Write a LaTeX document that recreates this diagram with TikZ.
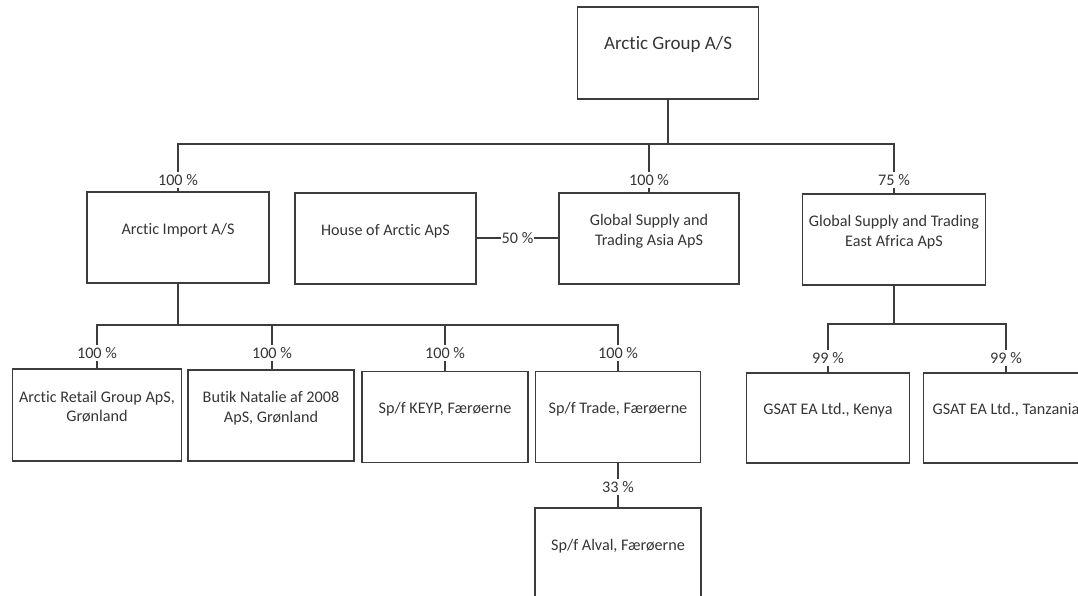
\documentclass[tikz,border=0pt]{standalone}
\usepackage{fontspec}
\setmainfont{Carlito}[Ligatures=NoCommon]
\usetikzlibrary{positioning,calc}
\definecolor{tinta}{HTML}{353535}
\definecolor{linea}{HTML}{3C3C3C}

\begin{document}
\begin{tikzpicture}[x=0.025cm, y=-0.025cm, font=\fontsize{11.5}{13.8}\selectfont, every node/.style={text=tinta},
  caja/.style={draw=linea, line width=1pt, align=center, minimum height=2.275cm, text depth=12.5pt, inner sep=2pt},
  pct/.style={inner sep=1.5pt},
  enlace/.style={draw=linea, line width=1.3pt}]
\useasboundingbox (0,0) rectangle (1078,595);
\clip (0,0) rectangle (1078,595);

% ================= matriz =================
\node[caja, minimum width=4.525cm, minimum height=2.3cm, font=\fontsize{13.5}{16}\selectfont, text depth=15pt] (grupo) at (668,53) {Arctic Group A/S};

% ================= nivel 1 =================
\node[caja, minimum width=4.55cm] (import) at (178,237.5) {Arctic Import A/S};
\node[caja, minimum width=4.525cm] (house) at (385.5,238.5) {House of Arctic ApS};
\node[caja, minimum width=4.5cm] (asia) at (649,238.5) {Global Supply and\\Trading Asia ApS};
\node[caja, minimum width=4.575cm] (eafrica) at (894,239.5) {Global Supply and Trading\\East Africa ApS};

% ================= nivel 2 =================
\node[caja, minimum width=4.225cm, minimum height=2.3cm] (retail) at (97,415) {Arctic Retail Group ApS,\\Grønland};
\node[caja, minimum width=4.15cm] (butik) at (271,415.5) {Butik Natalie af 2008\\ApS, Grønland};
\node[caja, minimum width=4.15cm] (keyp) at (445,417) {Sp/f KEYP, Færøerne};
\node[caja, minimum width=4.125cm] (trade) at (618,417) {Sp/f Trade, Færøerne};
\node[caja, minimum width=4.15cm, minimum height=2.3cm] (alval) at (618,554) {Sp/f Alval, Færøerne};
\node[caja, minimum width=4.075cm, minimum height=2.25cm] (kenya) at (828,418) {GSAT EA Ltd., Kenya};
\node[caja, minimum width=4.125cm, minimum height=2.25cm] (tanzania) at (1006,418) {GSAT EA Ltd., Tanzania};

% ================= porcentajes =================
\node[pct] (p-import) at (178,180) {100 \%};
\node[pct] (p-asia) at (649,180) {100 \%};
\node[pct] (p-eafrica) at (894,180) {75 \%};
\node[pct, inner sep=0pt] (p-house) at (517.5,238) {50 \%};
\node[pct] (p-retail) at (97,353) {100 \%};
\node[pct] (p-butik) at (272,353) {100 \%};
\node[pct] (p-keyp) at (445,353) {100 \%};
\node[pct] (p-trade) at (618,353) {100 \%};
\node[pct] (p-alval) at (618,487) {33 \%};
\node[pct] (p-kenya) at (828,358) {99 \%};
\node[pct] (p-tanzania) at (1006,358) {99 \%};

% ================= lineas =================
% grupo -> nivel 1
\draw[enlace] (grupo.south) -- ++(0,44) coordinate (hub1);
\draw[enlace] (hub1) -| (p-import.north);
\draw[enlace] (hub1) -| (p-asia.north);
\draw[enlace] (hub1) -| (p-eafrica.north);
\draw[enlace] (p-import.south) -- (p-import.south |- import.north);
\draw[enlace] (p-asia.south) -- (p-asia.south |- asia.north);
\draw[enlace] (p-eafrica.south) -- (p-eafrica.south |- eafrica.north);
% house 50 %
\draw[enlace] (p-house.west -| house.east) -- (p-house.west);
\draw[enlace] (p-house.east) -- (p-house.east -| asia.west);

% import -> nivel 2
\draw[enlace] (import.south) -- ++(0,41.5) coordinate (hub2);
\foreach \n in {retail,butik,keyp,trade}{
  \draw[enlace] (hub2) -| (p-\n.north);
  \draw[enlace] (p-\n.south) -- (p-\n.south |- \n.north);
}
% trade -> alval
\draw[enlace] (trade.south) -- (trade.south |- p-alval.north);
\draw[enlace] (p-alval.south) -- (p-alval.south |- alval.north);

% east africa -> kenya / tanzania
\draw[enlace] (eafrica.south) -- ++(0,38) coordinate (hub3);
\foreach \n in {kenya,tanzania}{
  \draw[enlace] (hub3) -| (p-\n.north);
  \draw[enlace] (p-\n.south) -- (p-\n.south |- \n.north);
}
\end{tikzpicture}
\end{document}
